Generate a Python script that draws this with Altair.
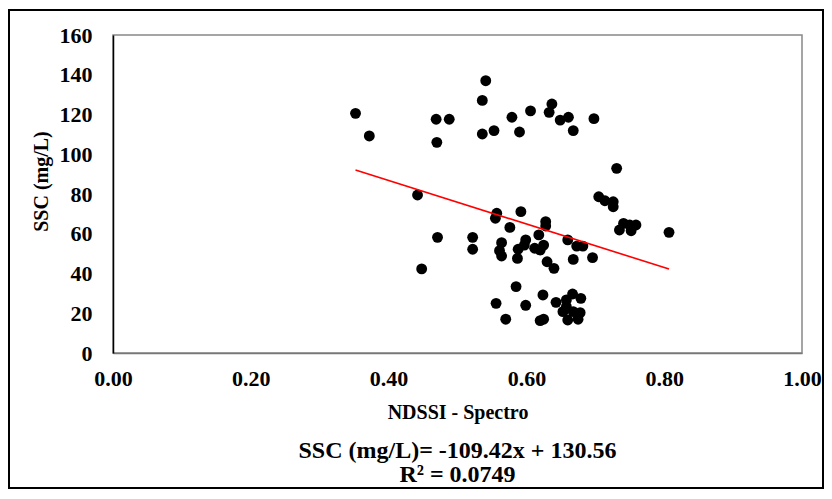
import altair as alt
import pandas as pd

# NDSSI (x) and SSC (y) values
ndssi = [0.352, 0.372, 0.469, 0.488, 0.470, 0.442, 0.471, 0.448,
         0.541, 0.536, 0.536, 0.553, 0.579, 0.590, 0.606, 0.637,
         0.633, 0.649, 0.661, 0.668, 0.698, 0.731, 0.705, 0.714,
         0.726, 0.726, 0.741, 0.735, 0.750, 0.752, 0.759, 0.807,
         0.682, 0.696, 0.522, 0.522, 0.557, 0.555, 0.592, 0.576,
         0.564, 0.561, 0.564, 0.588, 0.587, 0.599, 0.597, 0.618,
         0.628, 0.628, 0.612, 0.620, 0.625, 0.630, 0.640, 0.660,
         0.673, 0.668, 0.585, 0.556, 0.570, 0.599, 0.624, 0.620,
         0.625, 0.643, 0.658, 0.667, 0.679, 0.653, 0.660, 0.668,
         0.675, 0.678, 0.658]
ssc = [120.6, 109.2, 117.6, 117.6, 106.0, 79.5, 58.2, 42.3,
       137.0, 127.1, 110.2, 111.9, 118.6, 111.2, 121.8, 125.3,
       121.1, 117.2, 118.6, 111.9, 117.9, 92.9, 78.6, 76.6,
       76.1, 73.6, 65.2, 61.9, 64.4, 61.5, 64.4, 60.7,
       53.8, 48.0, 58.2, 52.2, 70.3, 67.8, 71.1, 63.2,
       55.5, 51.5, 48.8, 52.2, 47.6, 56.9, 54.3, 59.4,
       66.1, 63.9, 52.7, 51.8, 54.3, 45.9, 42.6, 56.9,
       53.8, 47.1, 33.4, 25.0, 17.0, 24.0, 29.2, 16.3,
       17.0, 25.5, 26.7, 29.7, 27.5, 20.8, 16.6, 20.8,
       17.0, 20.3, 23.3]

x_ticks = [0.0, 0.2, 0.4, 0.6, 0.8, 1.0]
y_ticks = [0, 20, 40, 60, 80, 100, 120, 140, 160]

slope = -109.42
intercept = 130.56
equation_lines = ["SSC (mg/L)= -109.42x + 130.56", "R² = 0.0749"]

FONT = "Liberation Serif"

df = pd.DataFrame({"NDSSI": ndssi, "SSC": ssc})
xmin, xmax = min(ndssi), max(ndssi)
trend = pd.DataFrame({"NDSSI": [xmin, xmax],
                      "SSC": [slope * xmin + intercept, slope * xmax + intercept]})

xs = alt.Scale(domain=[0, 1], nice=False, zero=False)
ys = alt.Scale(domain=[0, 160], nice=False)

W, H = 689, 318

x_axis = alt.Axis(values=x_ticks, format=".2f", title="NDSSI - Spectro",
                  labelPadding=15, titlePadding=13, labelFlush=False,
                  labelOverlap=False, domainColor="#777777", domainWidth=1.5)
y_axis = alt.Axis(values=y_ticks, format="d", title="SSC (mg/L)",
                  labelPadding=21, labelOverlap=False, labelFlush=False,
                  domainColor="black", domainWidth=1.5,
                  titleAngle=270, titleX=-72, titleY=146,
                  titleBaseline="middle", titleAlign="center")

X = alt.X("NDSSI:Q", scale=xs, axis=x_axis)
Y = alt.Y("SSC:Q", scale=ys, axis=y_axis)

points = alt.Chart(df).mark_circle(size=118, color="black", opacity=1).encode(x=X, y=Y)

line = alt.Chart(trend).mark_line(color="#ff0000", strokeWidth=1.6).encode(x=X, y=Y)

eq1 = alt.Chart(pd.DataFrame({"t": [equation_lines[0]]})).mark_text(
    font=FONT, fontWeight="bold", fontSize=24,
    align="center", baseline="middle", color="black", clip=False,
).encode(text="t:N", x=alt.value(W / 2), y=alt.value(416))

eq2 = alt.Chart(pd.DataFrame({"t": [equation_lines[1]]})).mark_text(
    font=FONT, fontWeight="bold", fontSize=24,
    align="center", baseline="middle", color="black", clip=False,
).encode(text="t:N", x=alt.value(W / 2), y=alt.value(440))

frame = alt.Chart(pd.DataFrame({"a": [0]})).mark_rect(
    filled=False, stroke="black", strokeWidth=2, clip=False,
).encode(x=alt.value(-104), x2=alt.value(710), y=alt.value(-25), y2=alt.value(453))

chart = alt.layer(frame, points, line, eq1, eq2).properties(
    width=W, height=H,
    autosize=alt.AutoSizeParams(type="none"),
    padding={"left": 105, "top": 27, "right": 22, "bottom": 136},
    background="white",
).configure_view(
    stroke="#888888", strokeWidth=1.5,
).configure_axis(
    grid=False, ticks=False, labelOverlap=False,
    labelFont=FONT, labelFontWeight="bold", labelFontSize=22, labelColor="black",
    titleFont=FONT, titleFontWeight="bold", titleFontSize=20, titleColor="black",
)

chart.save("out.html", embed_options={"renderer": "svg", "actions": False})
